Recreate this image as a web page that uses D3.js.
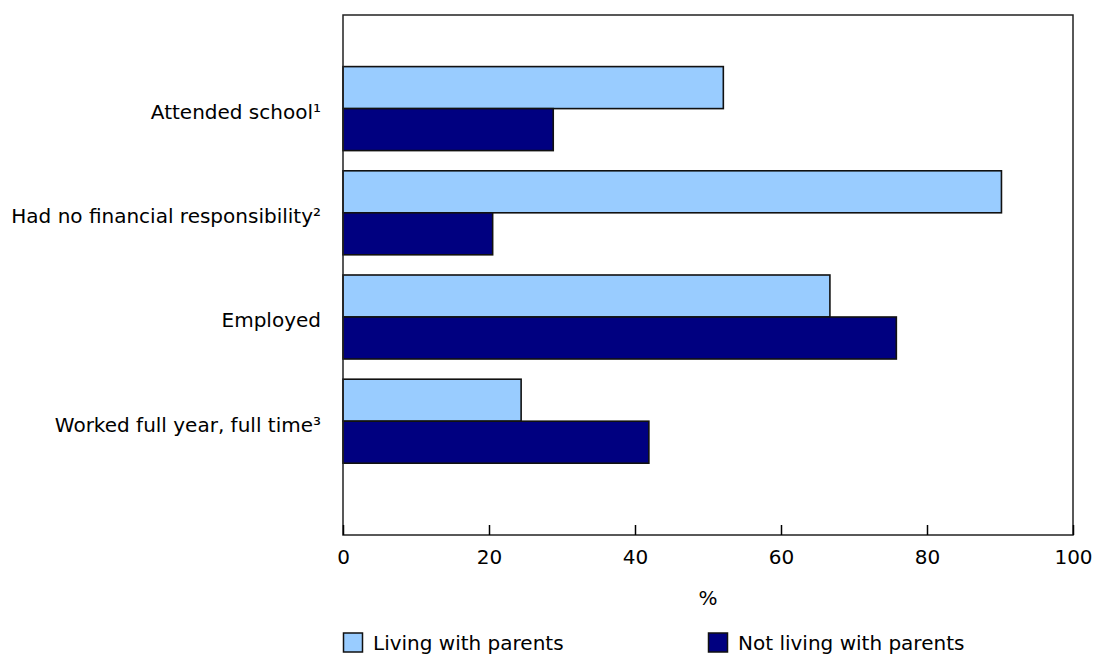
<meta charset="utf-8">
<html>
  <head>
    <style>
      body { margin: 0; background: #fff; }
      .axis text, .catLabel, .legend, .axisLabel {
        font-family: "DejaVu Sans", Verdana, sans-serif;
        fill: #000;
      }
      .axis text { font-size: 20px; }
      .catLabel { font-size: 20px; }
      .axisLabel { font-size: 20px; }
      .legend { font-size: 20px; }
      .axis line { stroke: #000; stroke-width: 1.5; }
    </style>
  </head>
<script src="https://d3js.org/d3.v7.min.js"></script>

<div id="my_dataviz"></div>
<script>

    // data (%)
    var categories = ["Attended school\u00b9", "Had no financial responsibility\u00b2", "Employed", "Worked full year, full time\u00b3"];
    var seriesNames = ["Living with parents", "Not living with parents"];
    var living = [52.1, 90.2, 66.7, 24.4];
    var notLiving = [28.8, 20.5, 75.8, 41.9];
    var xTicks = [0, 20, 40, 60, 80, 100];
    var colors = ["#99ccff", "#000080"];

    var totalW = 1094, totalH = 656;
    var margin = {top: 15, right: 21, bottom: 121, left: 343},
        width = totalW - margin.left - margin.right,
        height = totalH - margin.top - margin.bottom;

    var svg = d3.select("#my_dataviz")
      .append("svg")
        .attr("width", totalW)
        .attr("height", totalH)
      .append("g")
        .attr("transform", "translate(" + margin.left + "," + margin.top + ")");

    var data = categories.map(function(c, i) {
      return {cat: c, values: [living[i], notLiving[i]]};
    });

    // x axis
    var x = d3.scaleLinear()
      .domain([0, 100])
      .range([0, width]);

    // categories, then one row per series inside each group
    var y = d3.scaleBand()
      .domain(categories)
      .range([41, 41 + 4 * 104.2]);

    var y1 = d3.scaleBand()
      .domain(seriesNames)
      .range([10.6, 94.6]);

    // bars
    var groups = svg.selectAll("g.group")
      .data(data)
      .enter()
      .append("g")
        .attr("class", "group")
        .attr("transform", function(d) { return "translate(0," + y(d.cat) + ")"; });

    groups.selectAll("rect")
      .data(function(d) { return d.values.map(function(v, i) { return {key: seriesNames[i], value: v, i: i}; }); })
      .enter()
      .append("rect")
        .attr("x", x(0))
        .attr("y", function(d) { return y1(d.key); })
        .attr("width", function(d) { return x(d.value) - x(0); })
        .attr("height", y1.bandwidth())
        .attr("fill", function(d) { return colors[d.i]; })
        .attr("stroke", "#111")
        .attr("stroke-width", 1.6);

    // category labels
    svg.selectAll(".catLabel")
      .data(categories)
      .enter()
      .append("text")
        .attr("class", "catLabel")
        .attr("x", -22)
        .attr("y", function(d) { return y(d) + 52.6; })
        .attr("dy", "0.52em")
        .attr("text-anchor", "end")
        .text(function(d) { return d; });

    // frame
    svg.append("rect")
      .attr("x", 0)
      .attr("y", 0)
      .attr("width", width)
      .attr("height", height)
      .attr("fill", "none")
      .attr("stroke", "#222")
      .attr("stroke-width", 1.5);

    // x axis with inward ticks
    var xAxis = svg.append("g")
      .attr("class", "axis")
      .attr("transform", "translate(0," + height + ")")
      .call(d3.axisBottom(x).tickValues(xTicks).tickSizeInner(-10).tickSizeOuter(0).tickPadding(15));
    xAxis.select("path.domain").remove();

    svg.append("text")
      .attr("class", "axisLabel")
      .attr("x", width / 2)
      .attr("y", height + 70)
      .attr("text-anchor", "middle")
      .text("%");

    // legend
    var legend = svg.selectAll(".legendItem")
      .data(seriesNames)
      .enter()
      .append("g")
        .attr("class", "legendItem")
        .attr("transform", function(d, i) { return "translate(" + (i * width / 2) + "," + (height + 98) + ")"; });

    legend.append("rect")
      .attr("x", 0.5)
      .attr("y", 0)
      .attr("width", 19)
      .attr("height", 19)
      .attr("fill", function(d, i) { return colors[i]; })
      .attr("stroke", "#111")
      .attr("stroke-width", 1.5);

    legend.append("text")
      .attr("class", "legend")
      .attr("x", 30)
      .attr("y", 17)
      .text(function(d) { return d; });

</script>
</html>
